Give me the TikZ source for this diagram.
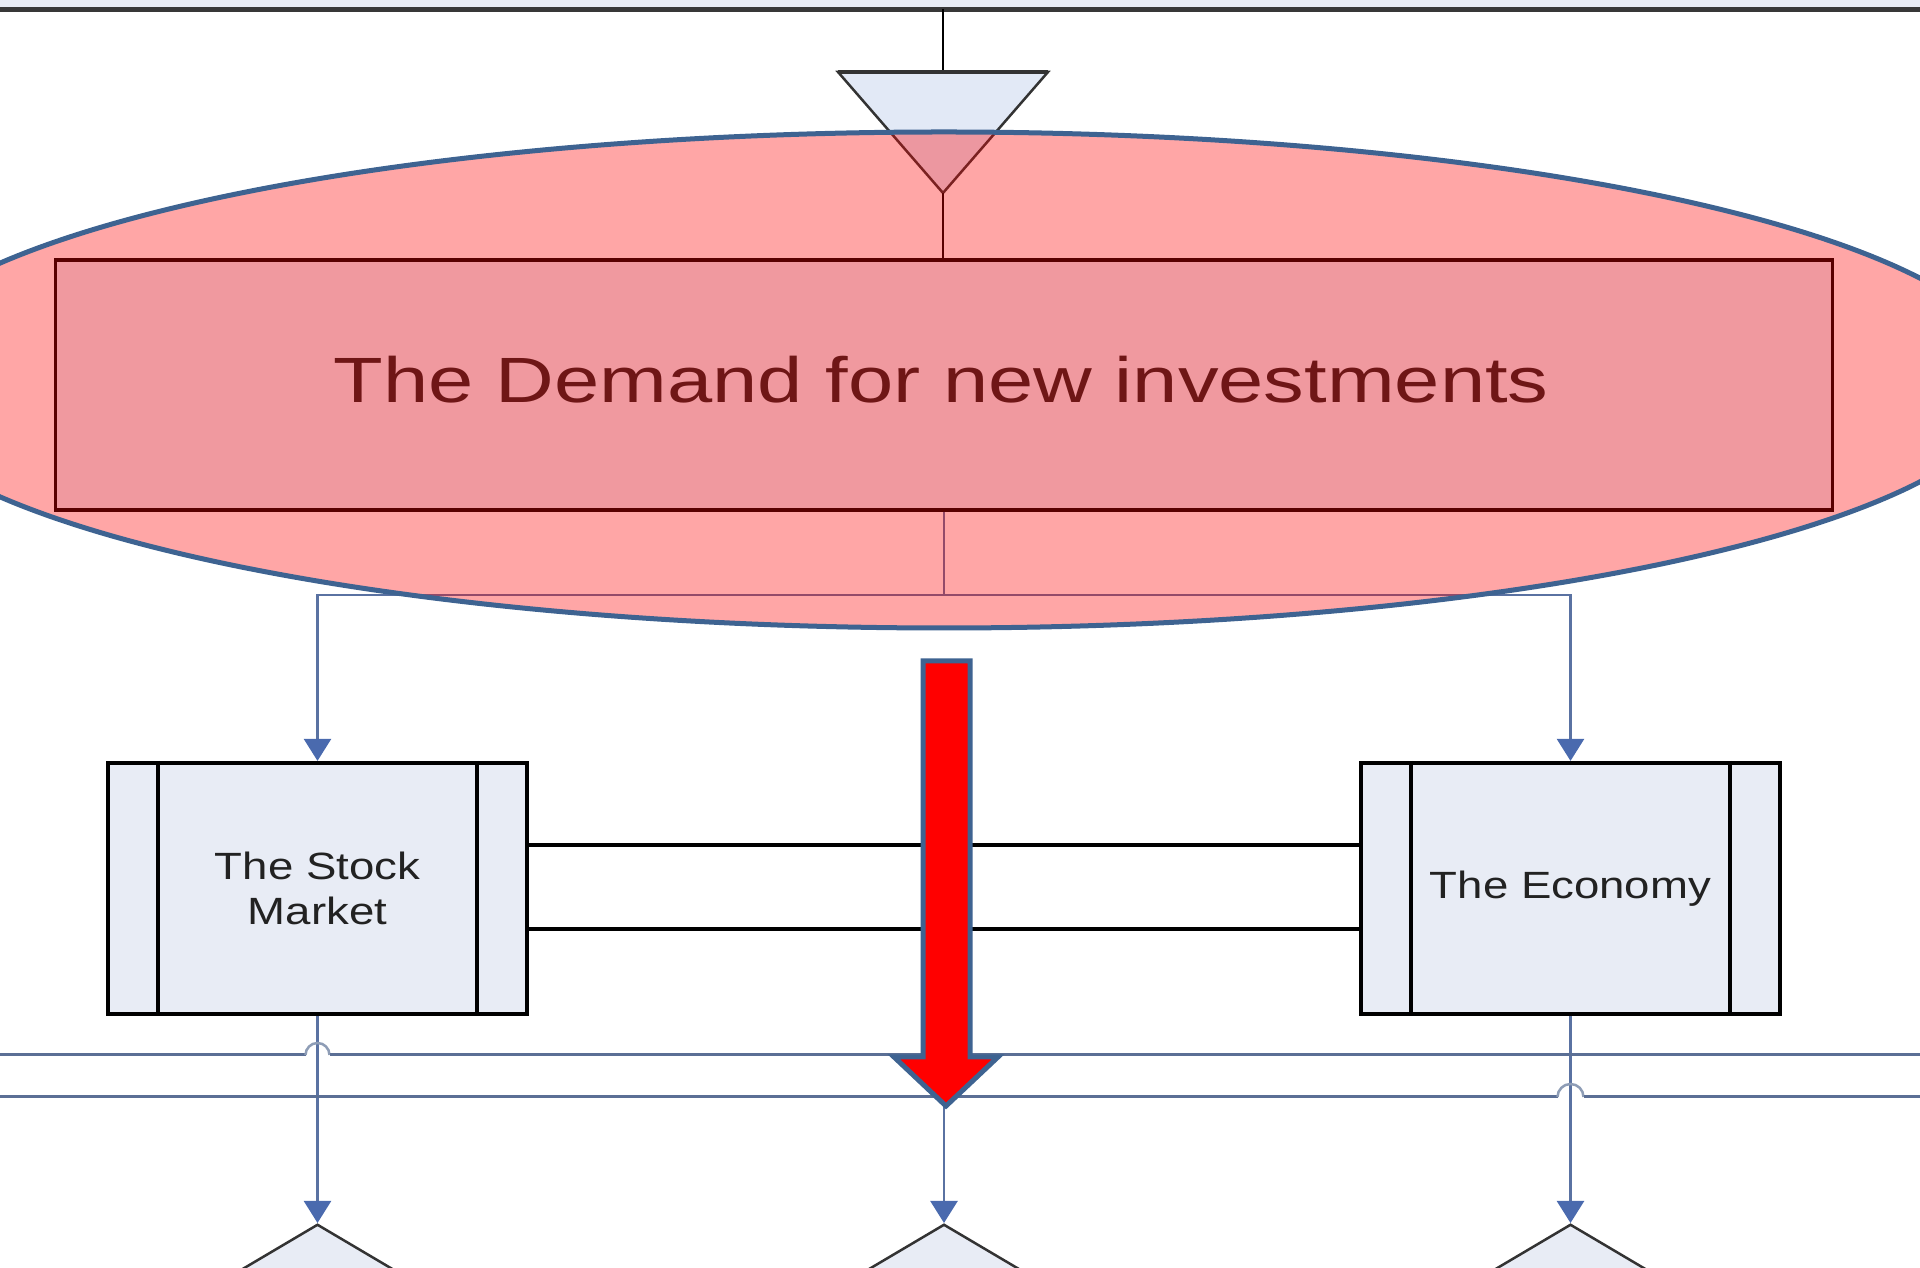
\documentclass[tikz,border=0pt]{standalone}
\usepackage{fontspec}
\setmainfont{Liberation Sans}
\newfontfamily\titlefont{Liberation Sans}[FakeStretch=1.27]
\newfontfamily\boxfont{Liberation Sans}[FakeStretch=1.2]
\usetikzlibrary{arrows.meta,shapes.geometric}

\definecolor{paleblue}{HTML}{E8ECF5}
\definecolor{trifill}{HTML}{E2E9F6}
\definecolor{connblue}{HTML}{5A72A2}
\definecolor{headblue}{HTML}{4A6AAE}
\definecolor{laneblue}{HTML}{5B6F95}
\definecolor{hopgray}{HTML}{8E9DB6}
\definecolor{rimblue}{HTML}{3E6391}
\definecolor{textgray}{HTML}{222222}

\tikzset{
  px/.style={line width=#1*0.2845pt},
  mergeshape/.style={draw=black!80, fill=trifill, px=2.5, line join=miter},
  demandbox/.style={draw=black, fill=paleblue, px=3.5, inner sep=0pt},
  procbox/.style={draw=black, fill=paleblue, px=4, inner sep=0pt,
    text=textgray, align=center, font=\boxfont\fontsize{10.8}{12.8}\selectfont,
    minimum width=4.18cm, minimum height=2.51cm},
  decision/.style={diamond, draw=black!80, fill=paleblue, px=2.5, inner sep=0pt,
    minimum width=2.7cm, minimum height=1.6cm, anchor=north},
  conn/.style={draw=connblue, px=2.5,
    -{Triangle[length=0.22cm,width=0.27cm,fill=headblue,color=headblue]}},
  plainconn/.style={draw=connblue, px=2.5},
  link/.style={draw=black, px=4},
  lane/.style={draw=laneblue, px=3},
  hop/.style={draw=hopgray, px=2.5},
  bigarrow/.style={fill=red, draw=rimblue, px=5, line join=miter},
}

\begin{document}
\begin{tikzpicture}[x=0.01cm, y=-0.01cm]
\useasboundingbox (0,0) rectangle (1920,1268);
\begin{scope}
\clip (0,0) rectangle (1920,1268);

% header band and its rule
\fill[paleblue] (0,0) rectangle (1920,9);
\draw[draw=black!78, px=4.5] (0,9.5) -- (1920,9.5);
\coordinate (tap) at (943,9);

% merge symbol
\coordinate (mergeL) at (838,72);
\coordinate (mergeR) at (1048,72);
\coordinate (mergeTop) at (943,72);
\coordinate (mergeTip) at (943,193);
\draw[draw=black, px=2.5] (tap) -- (mergeTop);
\draw[mergeshape] (mergeL) -- (mergeR) -- (mergeTip) -- cycle;
\draw[draw=black!80, px=4] (mergeL) -- (mergeR);

% main demand box
\node[demandbox, minimum width=17.76cm, minimum height=2.5cm] (demand) at (944,385) {};
\node[font=\titlefont\fontsize{18.2}{22}\selectfont, text=textgray, inner sep=0pt]
  (demandtext) at (941,380) {The Demand for new investments};
\draw[draw=black, px=2.5] (mergeTip) -- (demand.north -| mergeTip);

% two processes
\node[procbox] (stock) at (317.5,888.5) {The Stock\\Market};
\node[procbox] (econ) at (1570.5,888.5) {The Economy};
\foreach \b in {stock,econ}{
  \draw[draw=black, px=4] ([xshift=0.52cm]\b.north west) -- ([xshift=0.52cm]\b.south west);
  \draw[draw=black, px=4] ([xshift=-0.52cm]\b.north east) -- ([xshift=-0.52cm]\b.south east);
}

% connectors from the demand box
\coordinate (split) at (944,595);
\draw[plainconn] (demand.south) -- (split);
\draw[conn] (split) -| (stock.north);
\draw[conn] (split) -| (econ.north);

% links between the processes
\draw[link] (stock.east |- 0,845) -- (econ.west |- 0,845);
\draw[link] (stock.east |- 0,929) -- (econ.west |- 0,929);

% decisions
\node[decision] (dleft) at (317.5,1223) {};
\node[decision] (dmid) at (944,1223) {};
\node[decision] (dright) at (1570.5,1223) {};

% connectors down to the decisions
\coordinate (midstart) at (944,1100);
\draw[conn] (stock.south) -- (dleft.north);
\draw[conn] (midstart) -- (dmid.north);
\draw[conn] (econ.south) -- (dright.north);

% lane boundaries with line hops
\draw[lane] (0,1055) -- (305.5,1055);
\draw[hop] (305.5,1055) arc[start angle=180, end angle=360, radius=12];
\draw[lane] (329.5,1055) -- (1920,1055);
\draw[lane] (0,1097) -- (1557.5,1097);
\draw[hop] (1557.5,1097) arc[start angle=180, end angle=360, radius=13];
\draw[lane] (1583.5,1097) -- (1920,1097);

% translucent emphasis ellipse
\fill[red, fill opacity=0.35] (944,380) ellipse[x radius=1070, y radius=248];
\draw[draw=rimblue, px=5] (944,380) ellipse[x radius=1070, y radius=248];

% big downward arrow
\coordinate (bigtip) at (946,1106);
\draw[bigarrow] (923,661) -- (970,661) -- (970,1057) -- (998,1057)
  -- (bigtip) -- (894,1057) -- (923,1057) -- cycle;
\end{scope}
\end{tikzpicture}
\end{document}
